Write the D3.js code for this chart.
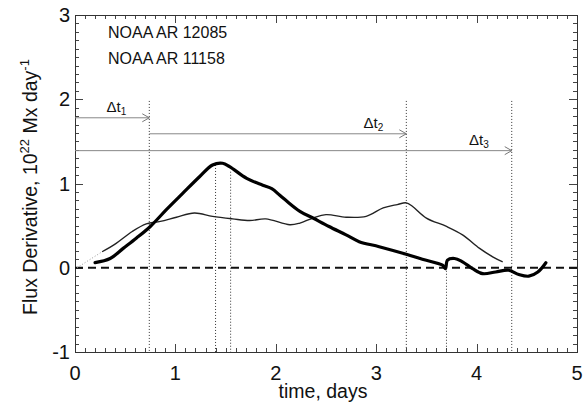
<!DOCTYPE html>
<html>
<head>
<meta charset="utf-8">
<style>
  body { margin: 0; background: #fff; }
  text { font-family: "Liberation Sans", Arial, sans-serif; fill: #111; }
</style>
</head>
<body>
<svg id="chart" width="585" height="403"></svg>
<script src="https://cdn.jsdelivr.net/npm/d3@7"></script>
<script>
// NOAA AR 12085 (thick curve)
const thickTime = [0.20, 0.35, 0.48, 0.61, 0.75, 0.91, 1.07, 1.24, 1.37, 1.47, 1.54, 1.71, 1.87, 1.96, 2.04, 2.10, 2.24, 2.37, 2.53, 2.70, 2.83, 3.03, 3.30, 3.46, 3.66, 3.69, 3.71, 3.78, 3.86, 3.96, 4.06, 4.19, 4.32, 4.42, 4.52, 4.61, 4.69]
const thickFlux = [0.06, 0.11, 0.23, 0.35, 0.49, 0.69, 0.88, 1.08, 1.22, 1.24, 1.20, 1.06, 0.98, 0.94, 0.86, 0.80, 0.67, 0.59, 0.49, 0.39, 0.31, 0.25, 0.16, 0.10, 0.03, -0.01, 0.09, 0.11, 0.07, -0.01, -0.07, -0.05, -0.03, -0.08, -0.10, -0.05, 0.06]

// NOAA AR 11158 (thin curve)
const thinTime = [0.27, 0.41, 0.57, 0.71, 0.85, 1.01, 1.19, 1.37, 1.57, 1.74, 1.90, 2.14, 2.24, 2.37, 2.50, 2.70, 2.90, 3.07, 3.21, 3.30, 3.36, 3.50, 3.70, 3.86, 4.03, 4.16, 4.26]
const thinFlux = [0.19, 0.29, 0.43, 0.52, 0.55, 0.60, 0.65, 0.61, 0.58, 0.56, 0.58, 0.51, 0.53, 0.59, 0.63, 0.60, 0.61, 0.71, 0.75, 0.77, 0.73, 0.59, 0.49, 0.39, 0.23, 0.13, 0.07]

// vertical dotted markers (time, top value)
const markerTime = [0.74, 1.40, 1.55, 3.30, 3.70, 4.35]
const markerTop = [1.98, 1.22, 1.14, 1.98, 0.0, 1.98]

// time intervals
const intervalStart = [0, 0.74, 0]
const intervalEnd = [0.74, 3.30, 4.35]
const intervalLevel = [1.78, 1.59, 1.39]
const intervalName = ["1", "2", "3"]

const legendNames = ["NOAA AR 12085", "NOAA AR 11158"]
const xTicks = [0, 1, 2, 3, 4, 5]
const yTicks = [-1, 0, 1, 2, 3]

const svg = d3.select("#chart")
const pLeft = 75, pRight = 577, pTop = 15, pBottom = 352

const x = d3.scaleLinear().domain([0, 5]).range([pLeft, pRight])
const y = d3.scaleLinear().domain([-1, 3]).range([pBottom, pTop])

// minor + major ticks on all four sides, pointing inward
const minorX = d3.range(0, 5.001, 0.1)
const minorY = d3.range(-1, 3.001, 0.1)
let ticks = svg.append("g").attr("stroke", "#444").attr("stroke-width", 1)
minorX.forEach(v => {
    let major = Math.abs(v - Math.round(v)) < 1e-6
    let len = major ? 8 : 4
    let px = Math.round(x(v)) + 0.5
    ticks.append("line").attr("x1", px).attr("x2", px).attr("y1", pBottom).attr("y2", pBottom - len)
    ticks.append("line").attr("x1", px).attr("x2", px).attr("y1", pTop).attr("y2", pTop + len)
})
minorY.forEach(v => {
    let major = Math.abs(v - Math.round(v)) < 1e-6
    let len = major ? 8 : 4
    let py = Math.round(y(v)) + 0.5
    ticks.append("line").attr("y1", py).attr("y2", py).attr("x1", pLeft).attr("x2", pLeft + len)
    ticks.append("line").attr("y1", py).attr("y2", py).attr("x1", pRight).attr("x2", pRight - len)
})

svg.append("rect")
    .attr("x", pLeft + 0.5).attr("y", pTop + 0.5)
    .attr("width", pRight - pLeft).attr("height", pBottom - pTop)
    .attr("fill", "none").attr("stroke", "#333")

// tick labels
svg.selectAll(".xl").data(xTicks).enter().append("text")
    .attr("x", d => x(d)).attr("y", 380)
    .attr("text-anchor", "middle").attr("font-size", 20)
    .text(d => d)
svg.selectAll(".yl").data(yTicks).enter().append("text")
    .attr("x", 70).attr("y", d => y(d) + 7)
    .attr("text-anchor", "end").attr("font-size", 20)
    .text(d => d)

// axis titles
svg.append("text").attr("x", 323).attr("y", 398)
    .attr("text-anchor", "middle").attr("font-size", 19.5)
    .text("time, days")
let yt = svg.append("text")
    .attr("transform", "translate(37,187) rotate(-90)")
    .attr("text-anchor", "middle").attr("font-size", 19.5)
yt.append("tspan").text("Flux Derivative, 10")
yt.append("tspan").attr("font-size", 13).attr("dy", -8).text("22")
yt.append("tspan").attr("dy", 8).text(" Mx day")
yt.append("tspan").attr("font-size", 13).attr("dy", -8).text("-1")

// legend labels
svg.selectAll(".lg").data(legendNames).enter().append("text")
    .attr("x", 108).attr("y", (d, i) => 38 + i * 26)
    .attr("font-size", 16)
    .text(d => d)

// zero line
svg.append("line")
    .attr("x1", x(0)).attr("x2", x(5)).attr("y1", y(0)).attr("y2", y(0))
    .attr("stroke", "#111").attr("stroke-width", 2).attr("stroke-dasharray", "8,5")

// vertical dotted markers
svg.selectAll(".mk").data(markerTime).enter().append("line")
    .attr("x1", d => x(d)).attr("x2", d => x(d))
    .attr("y1", (d, i) => y(markerTop[i])).attr("y2", pBottom)
    .attr("stroke", "#333").attr("stroke-width", 1).attr("stroke-dasharray", "1,2")

// interval arrows
intervalStart.forEach((s, i) => {
    let ly = y(intervalLevel[i])
    let xe = x(intervalEnd[i])
    svg.append("line").attr("x1", x(s)).attr("x2", xe).attr("y1", ly).attr("y2", ly)
        .attr("stroke", "#888").attr("stroke-width", 1)
    svg.append("path")
        .attr("d", `M${xe - 7},${ly - 4} L${xe},${ly} L${xe - 7},${ly + 4}`)
        .attr("fill", "none").attr("stroke", "#777").attr("stroke-width", 1)
    let t = svg.append("text")
        .attr("x", xe - 23).attr("y", ly - 6)
        .attr("text-anchor", "end").attr("font-size", 15)
    t.append("tspan").text("\u0394t")
    t.append("tspan").attr("font-size", 10).attr("dy", 3).text(intervalName[i])
})

// faint dotted extension of the thin curve toward origin
svg.append("line")
    .attr("x1", x(0.02)).attr("y1", y(0.0))
    .attr("x2", x(thinTime[0])).attr("y2", y(thinFlux[0]))
    .attr("stroke", "#999").attr("stroke-width", 1).attr("stroke-dasharray", "1,2")

const line = d3.line().curve(d3.curveCatmullRom.alpha(0.5))

svg.append("path")
    .attr("d", line(thinTime.map((t, i) => [x(t), y(thinFlux[i])])))
    .attr("fill", "none").attr("stroke", "#222").attr("stroke-width", 1.4)

svg.append("path")
    .attr("d", line(thickTime.map((t, i) => [x(t), y(thickFlux[i])])))
    .attr("fill", "none").attr("stroke", "#000").attr("stroke-width", 3.2)
    .attr("stroke-linejoin", "round").attr("stroke-linecap", "round")
</script>
</body>
</html>
